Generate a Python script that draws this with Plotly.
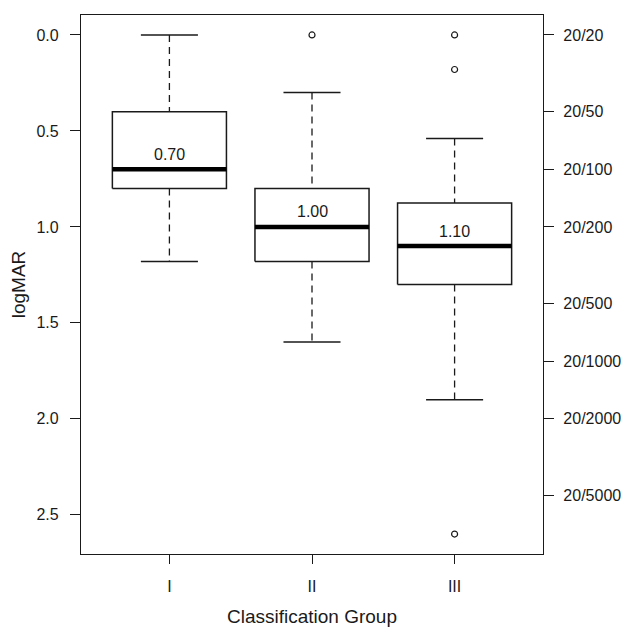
import math

import plotly.graph_objects as go

# logMAR summary per classification group
groups = ["I", "II", "III"]
lower_whisker = [1.18, 1.60, 1.90]
q1 = [0.80, 1.18, 1.30]
median = [0.70, 1.00, 1.10]
q3 = [0.40, 0.80, 0.875]
upper_whisker = [0.00, 0.30, 0.54]
outliers = [[], [0.0], [0.0, 0.18, 2.60]]

# Snellen equivalents for the right axis (20/x)
snellen_denoms = [20, 50, 100, 200, 500, 1000, 2000, 5000]
snellen_labels = [f"20/{d}" for d in snellen_denoms]
snellen_logmar = [math.log10(d / 20) for d in snellen_denoms]

left_ticks = [0.0, 0.5, 1.0, 1.5, 2.0, 2.5]

INK = "#1a1a1a"
HALF_BOX = 0.4
HALF_CAP = 0.2

fig = go.Figure()

for i, name in enumerate(groups):
    g = i + 1
    # whiskers (dashed)
    fig.add_trace(
        go.Scatter(
            x=[g, g, None, g, g],
            y=[upper_whisker[i], q3[i], None, q1[i], lower_whisker[i]],
            mode="lines",
            line=dict(color=INK, width=1.3, dash="7px,5px"),
            hoverinfo="skip",
            showlegend=False,
        )
    )
    # staples
    fig.add_trace(
        go.Scatter(
            x=[g - HALF_CAP, g + HALF_CAP, None, g - HALF_CAP, g + HALF_CAP],
            y=[upper_whisker[i], upper_whisker[i], None, lower_whisker[i], lower_whisker[i]],
            mode="lines",
            line=dict(color=INK, width=1.5),
            hoverinfo="skip",
            showlegend=False,
        )
    )
    # box
    fig.add_trace(
        go.Scatter(
            x=[g - HALF_BOX, g + HALF_BOX, g + HALF_BOX, g - HALF_BOX, g - HALF_BOX],
            y=[q1[i], q1[i], q3[i], q3[i], q1[i]],
            mode="lines",
            fill="toself",
            fillcolor="white",
            line=dict(color=INK, width=1.5),
            name=name,
            showlegend=False,
        )
    )
    # median
    fig.add_trace(
        go.Scatter(
            x=[g - HALF_BOX, g + HALF_BOX],
            y=[median[i], median[i]],
            mode="lines",
            line=dict(color="black", width=4.5),
            hoverinfo="skip",
            showlegend=False,
        )
    )
    # outliers
    if outliers[i]:
        fig.add_trace(
            go.Scatter(
                x=[g] * len(outliers[i]),
                y=outliers[i],
                mode="markers",
                marker=dict(symbol="circle-open", size=6, color=INK, line=dict(width=1.2)),
                showlegend=False,
            )
        )
    fig.add_annotation(
        x=g,
        y=median[i],
        text=f"{median[i]:.2f}",
        showarrow=False,
        yshift=15,
        font=dict(size=16, color=INK),
    )

# invisible trace to carry the Snellen axis
fig.add_trace(
    go.Scatter(x=[1], y=[0], yaxis="y2", mode="markers", marker=dict(opacity=0),
               hoverinfo="skip", showlegend=False)
)

y_range = [2.704, -0.104]

# page body adds an 8px margin, so the figure is 16px smaller than the window
fig.update_layout(
    width=615,
    height=619,
    margin=dict(l=73, r=80, t=7, b=73),
    paper_bgcolor="white",
    plot_bgcolor="white",
    font=dict(family="Liberation Sans, Arial, sans-serif", size=16, color=INK),
    xaxis=dict(
        range=[0.38, 3.62],
        tickvals=[1, 2, 3],
        ticktext=groups,
        ticks="outside",
        ticklen=9,
        tickcolor=INK,
        showline=True,
        linecolor=INK,
        linewidth=1.3,
        mirror=True,
        showgrid=False,
        zeroline=False,
        automargin=False,
        ticklabelstandoff=9,
        title=dict(text="Classification Group", standoff=27),
    ),
    yaxis=dict(
        range=y_range,
        tickvals=left_ticks,
        ticktext=[f"{v:.1f}" for v in left_ticks],
        ticks="outside",
        ticklen=10,
        tickcolor=INK,
        showline=True,
        linecolor=INK,
        linewidth=1.3,
        showgrid=False,
        zeroline=False,
        automargin=False,
        ticklabelstandoff=8,
        title=dict(text="logMAR", standoff=9),
    ),
    yaxis2=dict(
        overlaying="y",
        side="right",
        range=y_range,
        tickvals=snellen_logmar,
        ticktext=snellen_labels,
        ticks="outside",
        ticklen=10,
        tickcolor=INK,
        showline=True,
        linecolor=INK,
        linewidth=1.3,
        showgrid=False,
        zeroline=False,
        automargin=False,
        ticklabelstandoff=6,
    ),
)

fig.write_html("out.html")
